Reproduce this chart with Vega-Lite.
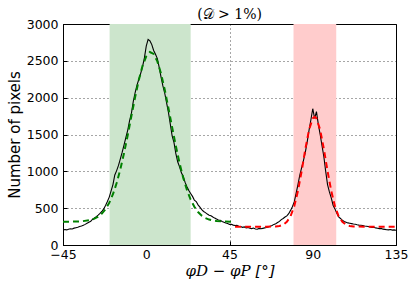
{
  "$schema": "https://vega.github.io/schema/vega-lite/v6.json",
  "width": 333,
  "height": 221,
  "autosize": {"type": "none"},
  "padding": {"left": 63, "top": 24, "right": 20, "bottom": 46},
  "background": "white",
  "title": {"text": "(𝒟 > 1%)", "font": "DejaVu Serif", "fontSize": 14, "fontWeight": "normal", "color": "black", "offset": -4},
  "config": {
    "view": {"stroke": "black", "strokeWidth": 1},
    "axis": {
      "grid": true, "gridColor": "black", "gridDash": [1, 3], "gridOpacity": 1, "gridWidth": 0.7, "zindex": 1,
      "domainColor": "black", "tickColor": "black", "tickSize": -4,
      "labelFont": "DejaVu Sans", "labelFontSize": 12.5, "labelColor": "black", "labelOverlap": false, "format": "d",
      "titleColor": "black", "titleFontWeight": "normal"
    },
    "axisX": {"labelPadding": 7, "titlePadding": 3, "titleFont": "DejaVu Serif", "titleFontStyle": "italic", "titleFontSize": 15, "labelFlush": false},
    "axisY": {"labelPadding": 9, "titlePadding": 4, "titleFont": "DejaVu Sans", "titleFontSize": 15, "values": [0, 500, 1000, 1500, 2000, 2500, 3000]}
  },
  "datasets": {
    "bands": [
      {"lo": -19.8, "hi": 24.0, "band": "green"},
      {"lo": 79.6, "hi": 102.7, "band": "red"}
    ],
    "hist": [
      {"phi": -45, "n": 203}, {"phi": -44, "n": 210}, {"phi": -43, "n": 205}, {"phi": -42, "n": 214}, {"phi": -41, "n": 220},
      {"phi": -40, "n": 218}, {"phi": -39, "n": 229}, {"phi": -38, "n": 235}, {"phi": -37, "n": 240}, {"phi": -36, "n": 252},
      {"phi": -35, "n": 258}, {"phi": -34, "n": 268}, {"phi": -33, "n": 280}, {"phi": -32, "n": 295}, {"phi": -31, "n": 310},
      {"phi": -30, "n": 322}, {"phi": -29, "n": 350}, {"phi": -28, "n": 368}, {"phi": -27, "n": 385}, {"phi": -26, "n": 405},
      {"phi": -25, "n": 428}, {"phi": -24, "n": 455}, {"phi": -23, "n": 490}, {"phi": -22, "n": 535}, {"phi": -21, "n": 590},
      {"phi": -20, "n": 650}, {"phi": -19, "n": 735}, {"phi": -18, "n": 820}, {"phi": -17, "n": 950}, {"phi": -16, "n": 1010},
      {"phi": -15, "n": 1080}, {"phi": -14, "n": 1170}, {"phi": -13, "n": 1260}, {"phi": -12, "n": 1360}, {"phi": -11, "n": 1460},
      {"phi": -10, "n": 1560}, {"phi": -9, "n": 1690}, {"phi": -8, "n": 1790}, {"phi": -7, "n": 1950}, {"phi": -6, "n": 2070},
      {"phi": -5, "n": 2170}, {"phi": -4, "n": 2250}, {"phi": -3, "n": 2330}, {"phi": -2, "n": 2420}, {"phi": -1, "n": 2540},
      {"phi": 0, "n": 2700}, {"phi": 1, "n": 2790}, {"phi": 2, "n": 2770}, {"phi": 3, "n": 2720}, {"phi": 4, "n": 2640},
      {"phi": 5, "n": 2590}, {"phi": 6, "n": 2530}, {"phi": 7, "n": 2410}, {"phi": 8, "n": 2280}, {"phi": 9, "n": 2160},
      {"phi": 10, "n": 2060}, {"phi": 11, "n": 1930}, {"phi": 12, "n": 1800}, {"phi": 13, "n": 1640}, {"phi": 14, "n": 1480},
      {"phi": 15, "n": 1390}, {"phi": 16, "n": 1240}, {"phi": 17, "n": 1130}, {"phi": 18, "n": 1060}, {"phi": 19, "n": 980},
      {"phi": 20, "n": 930}, {"phi": 21, "n": 850}, {"phi": 22, "n": 790}, {"phi": 23, "n": 740}, {"phi": 24, "n": 700},
      {"phi": 25, "n": 660}, {"phi": 26, "n": 610}, {"phi": 27, "n": 590}, {"phi": 28, "n": 545}, {"phi": 29, "n": 515},
      {"phi": 30, "n": 480}, {"phi": 31, "n": 455}, {"phi": 32, "n": 440}, {"phi": 33, "n": 420}, {"phi": 34, "n": 405},
      {"phi": 35, "n": 398}, {"phi": 36, "n": 380}, {"phi": 37, "n": 365}, {"phi": 38, "n": 352}, {"phi": 39, "n": 340},
      {"phi": 40, "n": 335}, {"phi": 41, "n": 318}, {"phi": 42, "n": 310}, {"phi": 43, "n": 300}, {"phi": 44, "n": 292},
      {"phi": 45, "n": 280}, {"phi": 46, "n": 282}, {"phi": 47, "n": 270}, {"phi": 48, "n": 265}, {"phi": 49, "n": 268},
      {"phi": 50, "n": 255}, {"phi": 51, "n": 250}, {"phi": 52, "n": 240}, {"phi": 53, "n": 245}, {"phi": 54, "n": 232},
      {"phi": 55, "n": 238}, {"phi": 56, "n": 228}, {"phi": 57, "n": 222}, {"phi": 58, "n": 230}, {"phi": 59, "n": 218},
      {"phi": 60, "n": 214}, {"phi": 61, "n": 225}, {"phi": 62, "n": 220}, {"phi": 63, "n": 226}, {"phi": 64, "n": 232},
      {"phi": 65, "n": 238}, {"phi": 66, "n": 245}, {"phi": 67, "n": 255}, {"phi": 68, "n": 265}, {"phi": 69, "n": 280},
      {"phi": 70, "n": 290}, {"phi": 71, "n": 305}, {"phi": 72, "n": 320}, {"phi": 73, "n": 345}, {"phi": 74, "n": 360},
      {"phi": 75, "n": 380}, {"phi": 76, "n": 395}, {"phi": 77, "n": 425}, {"phi": 78, "n": 470}, {"phi": 79, "n": 520},
      {"phi": 80, "n": 585}, {"phi": 81, "n": 700}, {"phi": 82, "n": 820}, {"phi": 83, "n": 950}, {"phi": 84, "n": 1050},
      {"phi": 85, "n": 1150}, {"phi": 86, "n": 1260}, {"phi": 87, "n": 1400}, {"phi": 88, "n": 1560}, {"phi": 89, "n": 1700},
      {"phi": 90, "n": 1850}, {"phi": 91, "n": 1720}, {"phi": 92, "n": 1810}, {"phi": 93, "n": 1640}, {"phi": 94, "n": 1500},
      {"phi": 95, "n": 1350}, {"phi": 96, "n": 1200}, {"phi": 97, "n": 1000}, {"phi": 98, "n": 820}, {"phi": 99, "n": 720},
      {"phi": 100, "n": 640}, {"phi": 101, "n": 540}, {"phi": 102, "n": 490}, {"phi": 103, "n": 430}, {"phi": 104, "n": 380},
      {"phi": 105, "n": 360}, {"phi": 106, "n": 335}, {"phi": 107, "n": 320}, {"phi": 108, "n": 310}, {"phi": 109, "n": 300},
      {"phi": 110, "n": 295}, {"phi": 111, "n": 290}, {"phi": 112, "n": 285}, {"phi": 113, "n": 282}, {"phi": 114, "n": 275},
      {"phi": 115, "n": 270}, {"phi": 116, "n": 268}, {"phi": 117, "n": 265}, {"phi": 118, "n": 258}, {"phi": 119, "n": 255},
      {"phi": 120, "n": 250}, {"phi": 121, "n": 245}, {"phi": 122, "n": 238}, {"phi": 123, "n": 240}, {"phi": 124, "n": 232},
      {"phi": 125, "n": 228}, {"phi": 126, "n": 222}, {"phi": 127, "n": 225}, {"phi": 128, "n": 215}, {"phi": 129, "n": 212},
      {"phi": 130, "n": 208}, {"phi": 131, "n": 205}, {"phi": 132, "n": 210}, {"phi": 133, "n": 202}, {"phi": 134, "n": 205},
      {"phi": 135, "n": 200}
    ],
    "greenfit": [
      {"phi": -45, "n": 316}, {"phi": -40, "n": 317}, {"phi": -35, "n": 321}, {"phi": -30, "n": 340}, {"phi": -28, "n": 358},
      {"phi": -26, "n": 384}, {"phi": -24, "n": 426}, {"phi": -22, "n": 487}, {"phi": -20, "n": 574}, {"phi": -18, "n": 689},
      {"phi": -16, "n": 841}, {"phi": -14, "n": 1028}, {"phi": -12, "n": 1249}, {"phi": -10, "n": 1493}, {"phi": -8, "n": 1754},
      {"phi": -6, "n": 2009}, {"phi": -4, "n": 2242}, {"phi": -2, "n": 2433}, {"phi": 0, "n": 2562}, {"phi": 2, "n": 2620},
      {"phi": 4, "n": 2594}, {"phi": 6, "n": 2493}, {"phi": 8, "n": 2325}, {"phi": 10, "n": 2107}, {"phi": 12, "n": 1857},
      {"phi": 14, "n": 1597}, {"phi": 16, "n": 1343}, {"phi": 18, "n": 1111}, {"phi": 20, "n": 911}, {"phi": 22, "n": 747},
      {"phi": 24, "n": 616}, {"phi": 26, "n": 519}, {"phi": 28, "n": 448}, {"phi": 30, "n": 399}, {"phi": 32, "n": 366},
      {"phi": 34, "n": 345}, {"phi": 36, "n": 333}, {"phi": 38, "n": 325}, {"phi": 42, "n": 318}, {"phi": 48, "n": 316}
    ],
    "redfit": [
      {"phi": 48, "n": 248}, {"phi": 55, "n": 248}, {"phi": 65, "n": 248}, {"phi": 70, "n": 251}, {"phi": 72, "n": 258},
      {"phi": 74, "n": 275}, {"phi": 76, "n": 314}, {"phi": 78, "n": 390}, {"phi": 80, "n": 526}, {"phi": 82, "n": 733},
      {"phi": 84, "n": 1003}, {"phi": 86, "n": 1303}, {"phi": 88, "n": 1564}, {"phi": 90, "n": 1719}, {"phi": 91, "n": 1740},
      {"phi": 92, "n": 1719}, {"phi": 94, "n": 1564}, {"phi": 96, "n": 1303}, {"phi": 98, "n": 1003}, {"phi": 100, "n": 733},
      {"phi": 102, "n": 526}, {"phi": 104, "n": 390}, {"phi": 106, "n": 314}, {"phi": 108, "n": 275}, {"phi": 110, "n": 258},
      {"phi": 112, "n": 251}, {"phi": 120, "n": 248}, {"phi": 135, "n": 248}
    ]
  },
  "layer": [
    {
      "data": {"name": "bands"},
      "mark": {"type": "rect", "opacity": 1},
      "encoding": {
        "x": {"field": "lo", "type": "quantitative", "scale": {"domain": [-45, 135], "nice": false, "zero": false}, "axis": {"values": [-45, 0, 45, 90, 135], "title": "φD − φP [°]"}},
        "x2": {"field": "hi"},
        "y": {"datum": 0, "type": "quantitative", "scale": {"domain": [0, 3000], "nice": false}, "title": "Number of pixels"},
        "y2": {"datum": 3000},
        "color": {"field": "band", "type": "nominal", "scale": {"domain": ["green", "red"], "range": ["#cce5cc", "#ffcccc"]}, "legend": null}
      }
    },
    {
      "data": {"name": "hist"},
      "mark": {"type": "line", "color": "black", "strokeWidth": 1.1, "clip": true},
      "encoding": {
        "x": {"field": "phi", "type": "quantitative", "title": "φD − φP [°]"},
        "y": {"field": "n", "type": "quantitative", "title": "Number of pixels"}
      }
    },
    {
      "data": {"name": "greenfit"},
      "mark": {"type": "line", "color": "#008000", "strokeWidth": 2, "strokeDash": [6, 4], "clip": true},
      "encoding": {
        "x": {"field": "phi", "type": "quantitative", "title": "φD − φP [°]"},
        "y": {"field": "n", "type": "quantitative", "title": "Number of pixels"}
      }
    },
    {
      "data": {"name": "redfit"},
      "mark": {"type": "line", "color": "#ff0000", "strokeWidth": 2, "strokeDash": [6, 4], "clip": true},
      "encoding": {
        "x": {"field": "phi", "type": "quantitative", "title": "φD − φP [°]"},
        "y": {"field": "n", "type": "quantitative", "title": "Number of pixels"}
      }
    }
  ]
}
